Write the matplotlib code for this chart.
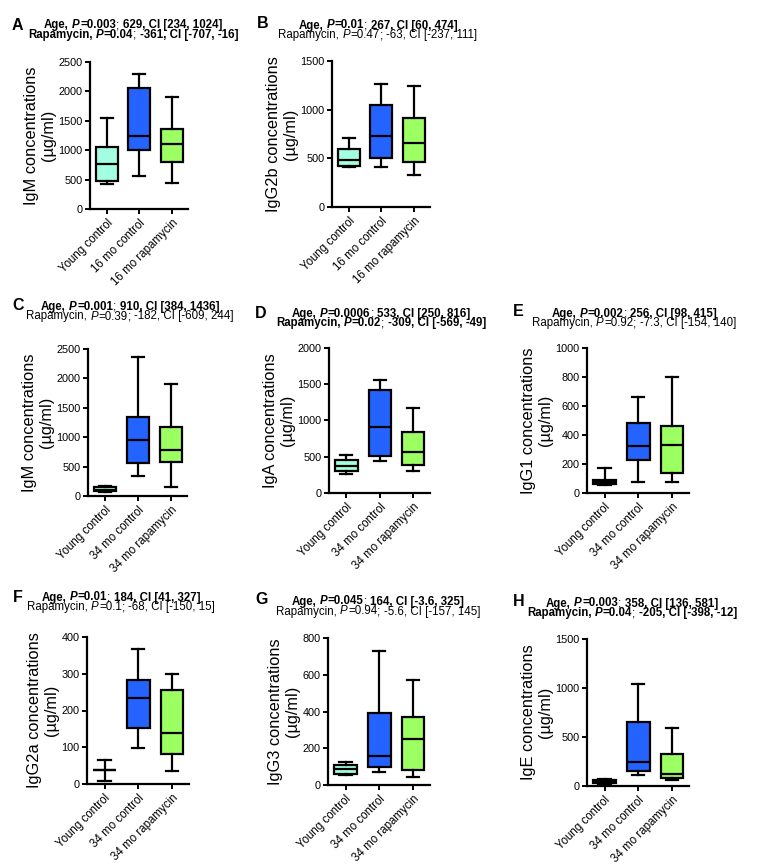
import matplotlib
matplotlib.use("Agg")
import matplotlib.pyplot as plt

plt.rcParams["font.family"] = ["Liberation Sans", "DejaVu Sans"]

FIG_W, FIG_H = 757, 868

GROUPS_16 = ["Young control", "16 mo control", "16 mo rapamycin"]
GROUPS_34 = ["Young control", "34 mo control", "34 mo rapamycin"]
COLORS = ["#A3FFE2", "#2563FF", "#9CFF62"]

# box stats per group: whisker low, Q1, median, Q3, whisker high (ug/ml)
IGM_16 = [[430, 476, 765, 1060, 1553], [561, 998, 1241, 2052, 2296], [442, 794, 1100, 1355, 1905]]
IGG2B_16 = [[407, 417, 485, 594, 714], [407, 499, 731, 1049, 1264], [325, 461, 656, 912, 1247]]
IGM_34 = [[60, 80, 110, 150, 170], [341, 563, 960, 1341, 2369], [153, 574, 778, 1165, 1903]]
IGA_34 = [[267, 299, 368, 451, 524], [437, 515, 910, 1416, 1563], [308, 382, 561, 841, 1172]]
IGG1_34 = [[57, 62, 73, 87, 170], [76, 229, 321, 486, 661], [76, 140, 333, 459, 803]]
IGG2A_34 = [[9, 37, 37, 37, 64], [99, 153, 233, 282, 368], [36, 81, 138, 255, 300]]
IGG3_34 = [[53, 62, 85, 111, 123], [71, 96, 156, 394, 728], [44, 83, 249, 370, 570]]
IGE_34 = [[20, 27, 44, 61, 72], [116, 157, 249, 658, 1040], [61, 85, 119, 324, 590]]

# (label, P value, estimate + CI, bold)
TITLES = {
    "A": [("Age", "0.003", "629, CI [234, 1024]", True), ("Rapamycin", "0.04", "-361, CI [-707, -16]", True)],
    "B": [("Age", "0.01", "267, CI [60, 474]", True), ("Rapamycin", "0.47", "-63, CI [-237, 111]", False)],
    "C": [("Age", "0.001", "910, CI [384, 1436]", True), ("Rapamycin", "0.39", "-182, CI [-609, 244]", False)],
    "D": [("Age", "0.0006", "533, CI [250, 816]", True), ("Rapamycin", "0.02", "-309, CI [-569, -49]", True)],
    "E": [("Age", "0.002", "256, CI [98, 415]", True), ("Rapamycin", "0.92", "-7.3, CI [-154, 140]", False)],
    "F": [("Age", "0.01", "184, CI [41, 327]", True), ("Rapamycin", "0.1", "-68, CI [-150, 15]", False)],
    "G": [("Age", "0.045", "164, CI [-3.6, 325]", True), ("Rapamycin", "0.94", "-5.6, CI [-157, 145]", False)],
    "H": [("Age", "0.003", "358, CI [136, 581]", True), ("Rapamycin", "0.04", "-205, CI [-398, -12]", True)],
}

# letter: (data, groups, isotype, ymax, ystep)
PANELS = {
    "A": (IGM_16, GROUPS_16, "IgM", 2500, 500),
    "B": (IGG2B_16, GROUPS_16, "IgG2b", 1500, 500),
    "C": (IGM_34, GROUPS_34, "IgM", 2500, 500),
    "D": (IGA_34, GROUPS_34, "IgA", 2000, 500),
    "E": (IGG1_34, GROUPS_34, "IgG1", 1000, 200),
    "F": (IGG2A_34, GROUPS_34, "IgG2a", 400, 100),
    "G": (IGG3_34, GROUPS_34, "IgG3", 800, 200),
    "H": (IGE_34, GROUPS_34, "IgE", 1500, 500),
}

# layout in pixels: axes (left, top, right, bottom), title (centre x, baseline 1, baseline 2), letter (x, y)
AX_PX = {
    "A": (90, 62, 188, 209), "B": (332, 61, 430, 207),
    "C": (88, 349, 187, 496), "D": (329, 348, 430, 493), "E": (587, 348, 689, 493),
    "F": (87, 637, 189, 784), "G": (328, 638, 430, 785), "H": (587, 639, 689, 786),
}
TITLE_PX = {
    "A": (133, 28.3, 37.8), "B": (378, 28.5, 38),
    "C": (130, 309.5, 319.5), "D": (381, 316.5, 326), "E": (634, 316.5, 326),
    "F": (121, 600.5, 610), "G": (378, 604.5, 614.5), "H": (632, 606.5, 616),
}
LETTER_PX = {
    "A": (12, 25), "B": (257, 23), "C": (12, 306), "D": (255, 313), "E": (513, 312),
    "F": (13, 597), "G": (255, 600), "H": (513, 601),
}

TITLE_SIZE = 8.3
LW = 1.6


def fig_frac(x, y):
    return x / FIG_W, 1 - y / FIG_H


def title_line(fig, renderer, x, base_y, label, p, rest, bold):
    """Lay out one mixed bold/italic line, centred on x with its baseline at base_y (pixels)."""
    weight = "bold" if bold else "normal"
    space = 0.278 * TITLE_SIZE * 100 / 72
    # (text, weight, style, gap after in px)
    pieces = [
        (label + ",", weight, "normal", space),
        ("P", weight, "italic", 0.6),
        ("=" + p, weight, "normal", 0),
        (";", "normal", "normal", space),
        (rest, weight, "normal", 0),
    ]
    texts, widths = [], []
    for s, w, st, gap in pieces:
        t = fig.text(0, 0, s, fontsize=TITLE_SIZE, fontweight=w, fontstyle=st, ha="left", va="baseline")
        texts.append(t)
        widths.append(t.get_window_extent(renderer).width + gap)
    cursor = x - sum(widths) / 2
    for t, w in zip(texts, widths):
        t.set_position(fig_frac(cursor, base_y))
        cursor += w


fig = plt.figure(figsize=(FIG_W / 100, FIG_H / 100), dpi=100)
renderer = fig.canvas.get_renderer()

for letter, (data, groups, iso, ymax, ystep) in PANELS.items():
    left, top, right, bottom = AX_PX[letter]
    ax = fig.add_axes([left / FIG_W, 1 - bottom / FIG_H, (right - left) / FIG_W, (bottom - top) / FIG_H])

    stats = [dict(whislo=s[0], q1=s[1], med=s[2], q3=s[3], whishi=s[4], fliers=[]) for s in data]
    bp = ax.bxp(stats, positions=[1, 2, 3], widths=0.67, capwidths=0.36, patch_artist=True,
                showfliers=False,
                boxprops=dict(linewidth=LW, edgecolor="black"),
                whiskerprops=dict(linewidth=LW, color="black"),
                capprops=dict(linewidth=LW, color="black"),
                medianprops=dict(linewidth=LW, color="black"))
    for patch, color in zip(bp["boxes"], COLORS):
        patch.set_facecolor(color)

    ax.set_xlim(0.48, 3.5)
    ax.set_ylim(0, ymax)
    ax.set_yticks(range(0, ymax + 1, ystep))
    ax.set_xticks([1, 2, 3])
    ax.set_xticklabels(groups, rotation=45, ha="right", va="top", rotation_mode="anchor", fontsize=8.3)
    ax.tick_params(axis="y", labelsize=7.8, length=3.8, width=1.4, pad=1.5)
    ax.tick_params(axis="x", length=3.8, width=1.4, pad=2)
    for side in ("top", "right"):
        ax.spines[side].set_visible(False)
    for side in ("left", "bottom"):
        ax.spines[side].set_linewidth(LW)
    ax.set_ylabel(f"{iso} concentrations\n(µg/ml)", fontsize=11.8, labelpad=2, linespacing=1.15)

    tx, ty1, ty2 = TITLE_PX[letter]
    (l1, p1, r1, b1), (l2, p2, r2, b2) = TITLES[letter]
    title_line(fig, renderer, tx, ty1, l1, p1, r1, b1)
    title_line(fig, renderer, tx, ty2, l2, p2, r2, b2)

    lx, ly = LETTER_PX[letter]
    fx, fy = fig_frac(lx, ly)
    fig.text(fx, fy, letter, fontsize=11.5, fontweight="bold", ha="left", va="center")

fig.savefig("out.png", dpi=100)
